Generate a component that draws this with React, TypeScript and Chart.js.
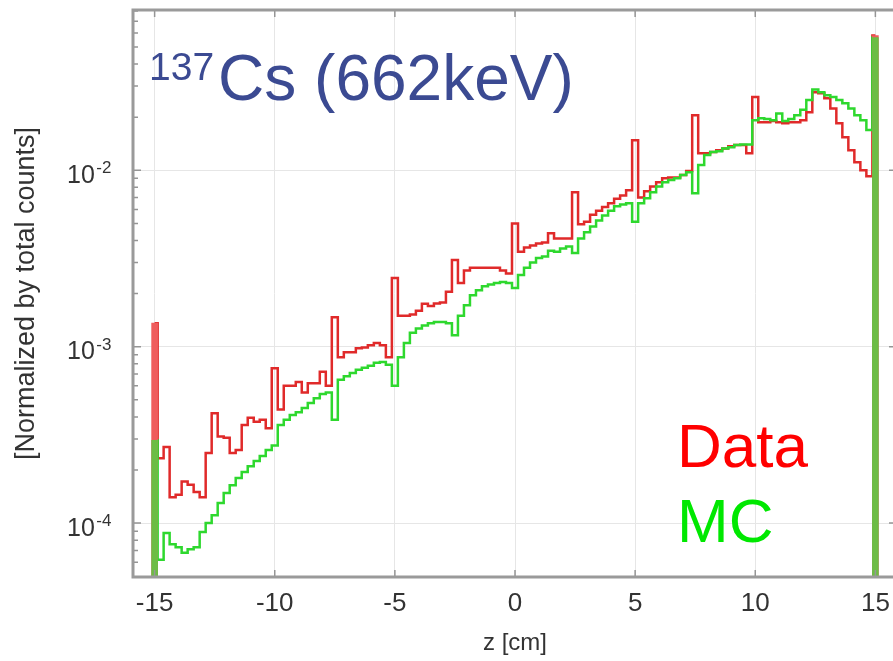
import React, { useEffect, useRef } from 'react';
import { Chart, registerables } from 'chart.js';

Chart.register(...registerables);

const FONT = '"Liberation Sans", Arial, Helvetica, sans-serif';

// Histogram bins: centres from -15 cm in steps of 0.25 cm
const BIN_START = -15;
const BIN_WIDTH = 0.25;

// Data (red) – normalized by total counts
const dataValues = [
  1.36e-3, 2.33e-4, 2.7e-4, 1.4e-4, 1.45e-4, 1.72e-4, 1.65e-4, 1.5e-4, 1.4e-4, 2.5e-4,
  4.2e-4, 3.1e-4, 3.05e-4, 2.5e-4, 2.6e-4, 3.6e-4, 3.95e-4, 3.75e-4, 3.85e-4, 3.45e-4,
  7.55e-4, 4.4e-4, 6.0e-4, 6.0e-4, 6.3e-4, 5.5e-4, 6.2e-4, 6.2e-4, 7.2e-4, 6.0e-4,
  1.47e-3, 8.7e-4, 9.3e-4, 9.3e-4, 9.8e-4, 9.9e-4, 1.02e-3, 1.05e-3, 1.02e-3, 8.7e-4,
  2.45e-3, 1.5e-3, 1.5e-3, 1.52e-3, 1.6e-3, 1.75e-3, 1.7e-3, 1.76e-3, 1.78e-3, 2.05e-3,
  3.1e-3, 2.3e-3, 2.7e-3, 2.8e-3, 2.8e-3, 2.8e-3, 2.8e-3, 2.8e-3, 2.7e-3, 2.6e-3,
  5.0e-3, 3.45e-3, 3.65e-3, 3.75e-3, 3.85e-3, 3.9e-3, 4.4e-3, 4.1e-3, 4.1e-3, 4.1e-3,
  7.5e-3, 4.95e-3, 5.1e-3, 5.6e-3, 5.9e-3, 6.2e-3, 6.5e-3, 6.9e-3, 7.2e-3, 7.7e-3,
  1.48e-2, 7.0e-3, 7.6e-3, 8.1e-3, 8.55e-3, 9.0e-3, 9.1e-3, 9.1e-3, 9.4e-3, 9.9e-3,
  2.05e-2, 1.25e-2, 1.25e-2, 1.27e-2, 1.3e-2, 1.33e-2, 1.37e-2, 1.39e-2, 1.39e-2, 1.25e-2,
  2.6e-2, 1.87e-2, 1.87e-2, 1.9e-2, 1.87e-2, 1.85e-2, 1.87e-2, 1.87e-2, 1.92e-2, 2.13e-2,
  2.77e-2, 2.73e-2, 2.56e-2, 2.24e-2, 1.85e-2, 1.54e-2, 1.3e-2, 1.11e-2, 1.0e-2, 9.25e-3,
  5.8e-2,
];

// MC (green)
const mcValues = [
  2.95e-4, 6.2e-5, 8.8e-5, 7.6e-5, 7.3e-5, 6.8e-5, 7.1e-5, 7.3e-5, 8.9e-5, 1.0e-4,
  1.11e-4, 1.3e-4, 1.48e-4, 1.64e-4, 1.8e-4, 1.95e-4, 2.1e-4, 2.25e-4, 2.4e-4, 2.6e-4,
  2.75e-4, 3.6e-4, 3.85e-4, 4.1e-4, 4.25e-4, 4.5e-4, 4.8e-4, 5.1e-4, 5.4e-4, 5.5e-4,
  3.85e-4, 6.5e-4, 6.8e-4, 7.1e-4, 7.4e-4, 7.6e-4, 7.8e-4, 8.1e-4, 8.2e-4, 7.9e-4,
  6.0e-4, 8.7e-4, 1.05e-3, 1.2e-3, 1.27e-3, 1.32e-3, 1.36e-3, 1.38e-3, 1.38e-3, 1.36e-3,
  1.16e-3, 1.5e-3, 1.72e-3, 1.96e-3, 2.09e-3, 2.2e-3, 2.25e-3, 2.3e-3, 2.33e-3, 2.3e-3,
  2.15e-3, 2.55e-3, 2.8e-3, 3.0e-3, 3.18e-3, 3.25e-3, 3.5e-3, 3.45e-3, 3.6e-3, 3.7e-3,
  3.4e-3, 4.1e-3, 4.45e-3, 4.8e-3, 5.2e-3, 5.55e-3, 5.9e-3, 6.25e-3, 6.4e-3, 6.5e-3,
  5.1e-3, 6.5e-3, 6.95e-3, 7.5e-3, 8.1e-3, 8.55e-3, 8.8e-3, 9.0e-3, 9.4e-3, 9.75e-3,
  7.4e-3, 1.07e-2, 1.22e-2, 1.27e-2, 1.28e-2, 1.33e-2, 1.35e-2, 1.39e-2, 1.4e-2, 1.4e-2,
  1.92e-2, 1.97e-2, 1.95e-2, 1.92e-2, 2.1e-2, 1.9e-2, 1.95e-2, 2.05e-2, 2.2e-2, 2.5e-2,
  2.87e-2, 2.77e-2, 2.66e-2, 2.6e-2, 2.5e-2, 2.4e-2, 2.24e-2, 2.05e-2, 1.92e-2, 1.69e-2,
  5.65e-2,
];

const zCenters = dataValues.map((_, i) => BIN_START + i * BIN_WIDTH);

const xTickValues = [-15, -10, -5, 0, 5, 10, 15];
const yMajorTicks = [1e-4, 1e-3, 1e-2];
const yMinorMultipliers = [2, 3, 4, 5, 6, 7, 8, 9];
const yDecades = [-5, -4, -3, -2];

const X_MIN = -15.9;
const X_MAX = 15.9;
const Y_MIN = 4.95e-5;
const Y_MAX = 0.081;

const titleSup = '137';
const titleMain = 'Cs (662keV)';
const legendItems = [
  { label: 'Data', color: '#ff0000' },
  { label: 'MC', color: '#00e800' },
];

const edgeIdx = [0, dataValues.length - 1];

const decorPlugin = {
  id: 'decor',
  afterDatasetsDraw(chart: any) {
    const { ctx, chartArea, scales } = chart;
    const { left, right, top, bottom } = chartArea;
    const x = scales.x;
    const y = scales.y;
    ctx.save();

    // tick marks (inward)
    ctx.strokeStyle = '#959595';
    ctx.lineWidth = 1.5;
    ctx.beginPath();
    for (const v of xTickValues) {
      const px = x.getPixelForValue(v);
      ctx.moveTo(px, bottom);
      ctx.lineTo(px, bottom - 7);
      ctx.moveTo(px, top);
      ctx.lineTo(px, top + 7);
    }
    for (const d of yDecades) {
      for (const m of [1, ...yMinorMultipliers]) {
        const v = m * Math.pow(10, d);
        if (v <= Y_MIN * 1.03 || v >= Y_MAX) continue;
        const py = y.getPixelForValue(v);
        const major = m === 1;
        ctx.moveTo(left, py);
        ctx.lineTo(left + (major ? 8 : 5), py);
        if (major) {
          ctx.moveTo(right, py);
          ctx.lineTo(right - 8, py);
        }
      }
    }
    ctx.stroke();

    // frame (left, top, bottom; right side lies outside the visible area)
    ctx.strokeStyle = '#9a9a9a';
    ctx.lineWidth = 3;
    ctx.beginPath();
    ctx.moveTo(right + 2, top);
    ctx.lineTo(left, top);
    ctx.lineTo(left, bottom);
    ctx.lineTo(right + 2, bottom);
    ctx.stroke();

    // y tick labels with superscript exponent
    ctx.fillStyle = '#333';
    ctx.textAlign = 'left';
    ctx.textBaseline = 'alphabetic';
    for (const v of yMajorTicks) {
      const py = y.getPixelForValue(v);
      const exp = Math.round(Math.log10(v));
      ctx.font = `25px ${FONT}`;
      const bx = left - 66;
      ctx.fillText('10', bx, py + 12.5);
      const w = ctx.measureText('10').width;
      ctx.font = `17px ${FONT}`;
      ctx.fillText(String(exp), bx + w + 1.5, py + 3);
    }

    // title
    ctx.fillStyle = '#3b4a92';
    ctx.font = `39px ${FONT}`;
    const tx = left + 16;
    ctx.fillText(titleSup, tx, 80);
    const sw = ctx.measureText(titleSup).width;
    ctx.font = `64px ${FONT}`;
    ctx.fillText(titleMain, tx + sw + 4, 100);

    // legend text
    ctx.font = `62px ${FONT}`;
    legendItems.forEach((it, i) => {
      ctx.fillStyle = it.color;
      ctx.fillText(it.label, 677, 467 + i * 75);
    });

    ctx.restore();
  },
};

export default function App() {
  const ref = useRef<HTMLCanvasElement | null>(null);

  useEffect(() => {
    if (!ref.current) return;
    const chart = new Chart(ref.current, {
      type: 'line',
      data: {
        datasets: [
          {
            type: 'bar',
            label: 'MC edge',
            data: edgeIdx.map((i) => ({ x: zCenters[i], y: mcValues[i] })),
            backgroundColor: '#6cbd45',
            borderWidth: 0,
            barThickness: 6,
            grouped: false,
            order: 0,
          } as any,
          {
            type: 'bar',
            label: 'Data edge',
            data: edgeIdx.map((i) => ({ x: zCenters[i], y: dataValues[i] })),
            backgroundColor: '#ef5d5d',
            borderWidth: 0,
            barThickness: 6,
            grouped: false,
            order: 1,
          } as any,
          {
            label: 'MC',
            data: zCenters.map((z, i) => ({ x: z, y: mcValues[i] })),
            borderColor: '#2ed82e',
            borderWidth: 2.5,
            pointRadius: 0,
            stepped: 'middle',
            fill: false,
            order: 2,
          },
          {
            label: 'Data',
            data: zCenters.map((z, i) => ({ x: z, y: dataValues[i] })),
            borderColor: '#e02a2a',
            borderWidth: 2.5,
            pointRadius: 0,
            stepped: 'middle',
            fill: false,
            order: 3,
          },
        ],
      },
      options: {
        responsive: false,
        animation: false,
        layout: { padding: { left: 0, top: 10, right: 8, bottom: 0 } },
        plugins: { legend: { display: false }, tooltip: { enabled: false } },
        scales: {
          x: {
            type: 'linear',
            min: X_MIN,
            max: X_MAX,
            offset: false,
            afterBuildTicks: (scale: any) => {
              scale.ticks = xTickValues.map((v) => ({ value: v }));
            },
            afterFit: (scale: any) => {
              scale.height = 84;
              scale.paddingLeft = 0;
              scale.paddingRight = 0;
            },
            grid: { color: '#e6e6e6', lineWidth: 1, drawTicks: false, offset: false },
            border: { display: false },
            ticks: {
              font: { family: FONT, size: 26 },
              color: '#333',
              padding: 11,
              maxRotation: 0,
              callback: (v: any) => String(v),
            },
            title: {
              display: true,
              text: 'z [cm]',
              font: { family: FONT, size: 24 },
              color: '#333',
              padding: { top: 0, bottom: 3 },
            },
          },
          y: {
            type: 'logarithmic',
            min: Y_MIN,
            max: Y_MAX,
            afterBuildTicks: (scale: any) => {
              scale.ticks = yMajorTicks.map((v) => ({ value: v }));
            },
            afterFit: (scale: any) => {
              scale.width = 133;
              scale.paddingTop = 0;
              scale.paddingBottom = 0;
            },
            grid: { color: '#e6e6e6', lineWidth: 1, drawTicks: false },
            border: { display: false },
            ticks: { display: false },
            title: {
              display: true,
              text: '[Normalized by total counts]',
              font: { family: FONT, size: 27 },
              color: '#333',
              padding: { top: 10, bottom: 0 },
            },
          },
        },
      },
      plugins: [decorPlugin],
    });
    return () => chart.destroy();
  }, []);

  return (
    <div
      style={{
        position: 'absolute',
        left: 0,
        top: 0,
        width: 893,
        height: 661,
        overflow: 'hidden',
        background: '#fff',
      }}
    >
      <canvas ref={ref} width={905} height={661} style={{ width: 905, height: 661, display: 'block' }} />
    </div>
  );
}
